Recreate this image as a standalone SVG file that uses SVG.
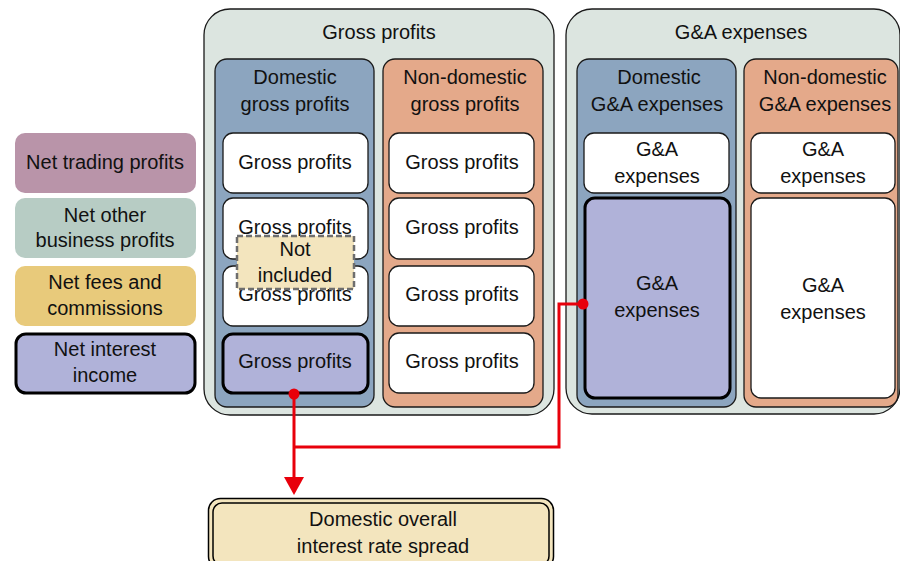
<svg xmlns="http://www.w3.org/2000/svg" width="900" height="561" viewBox="0 0 900 561">
<style>
text{font-family:"Liberation Sans",Arial,sans-serif;font-size:20px;fill:#111;text-anchor:middle}
.outer{fill:#DCE5E0;stroke:#1a1a1a;stroke-width:1.3}
.dom{fill:#8CA5BF;stroke:#1a1a1a;stroke-width:1.3}
.nondom{fill:#E4A98A;stroke:#1a1a1a;stroke-width:1.3}
.wb{fill:#fff;stroke:#1a1a1a;stroke-width:1.3}
.pb{fill:#B0B2D9;stroke:#000;stroke-width:3}
.conn{fill:none;stroke:#E8000B;stroke-width:3}
</style>
<defs>
<marker id="arr" viewBox="0 0 10 10" refX="10" refY="5" markerWidth="6.7" markerHeight="6" orient="auto" markerUnits="strokeWidth">
<path d="M0,0 L10,5 L0,10 z" fill="#E8000B"/>
</marker>
</defs>

<g id="legend-trading"><rect x="15" y="133" width="181" height="60" rx="10" fill="#B994A9"/><text x="105" y="169">Net trading profits</text></g>
<g id="legend-other"><rect x="15" y="198" width="181" height="60" rx="10" fill="#B7CCC4"/><text x="105" y="222">Net other</text><text x="105" y="247">business profits</text></g>
<g id="legend-fees"><rect x="15" y="266" width="181" height="60" rx="10" fill="#E8CA7B"/><text x="105" y="289">Net fees and</text><text x="105" y="315">commissions</text></g>
<g id="legend-interest"><rect x="16" y="334" width="179" height="59" rx="10" class="pb"/><text x="105" y="356">Net interest</text><text x="105" y="382">income</text></g>

<g id="gross-profits">
<rect x="204" y="9" width="350" height="406" rx="26" class="outer"/>
<text x="379" y="39">Gross profits</text>
</g>
<g id="domestic-gross">
<rect x="215" y="59" width="159" height="348" rx="12" class="dom"/>
<text x="295" y="84">Domestic</text><text x="295" y="111">gross profits</text>
</g>
<g id="dg1"><rect x="223" y="133" width="145" height="60" rx="10" class="wb"/><text x="295" y="169">Gross profits</text></g>
<g id="dg2"><rect x="223" y="198" width="145" height="61" rx="10" class="wb"/><text x="295" y="234">Gross profits</text></g>
<g id="dg3"><rect x="223" y="266" width="145" height="60" rx="10" class="wb"/><text x="295" y="301">Gross profits</text></g>
<g id="dg4"><rect x="223" y="334" width="145" height="59" rx="10" class="pb"/><text x="295" y="368">Gross profits</text></g>
<g id="not-included"><rect x="237" y="236" width="117" height="53" fill="#F3E5BE" stroke="#6e6e6e" stroke-width="2.5" stroke-dasharray="6,3"/><text x="295" y="256">Not</text><text x="295" y="282">included</text></g>

<g id="nondomestic-gross">
<rect x="383" y="59" width="160" height="348" rx="12" class="nondom"/>
<text x="465" y="84">Non-domestic</text><text x="465" y="111">gross profits</text>
</g>
<g id="ng1"><rect x="389" y="133" width="145" height="60" rx="10" class="wb"/><text x="462" y="169">Gross profits</text></g>
<g id="ng2"><rect x="389" y="198" width="145" height="61" rx="10" class="wb"/><text x="462" y="234">Gross profits</text></g>
<g id="ng3"><rect x="389" y="266" width="145" height="60" rx="10" class="wb"/><text x="462" y="301">Gross profits</text></g>
<g id="ng4"><rect x="389" y="333" width="145" height="60" rx="10" class="wb"/><text x="462" y="368">Gross profits</text></g>

<g id="ga-expenses">
<rect x="566" y="9" width="334" height="405" rx="26" class="outer"/>
<text x="741" y="39">G&amp;A expenses</text>
</g>
<g id="domestic-ga">
<rect x="577" y="59" width="159" height="348" rx="12" class="dom"/>
<text x="659" y="84">Domestic</text><text x="657" y="111">G&amp;A expenses</text>
</g>
<g id="dga1"><rect x="584" y="133" width="145" height="60" rx="10" class="wb"/><text x="657" y="156">G&amp;A</text><text x="657" y="183">expenses</text></g>
<g id="dga2"><rect x="585" y="198" width="145" height="200" rx="10" class="pb"/><text x="657" y="290">G&amp;A</text><text x="657" y="317">expenses</text></g>

<g id="nondomestic-ga">
<rect x="744" y="59" width="154" height="348" rx="12" class="nondom"/>
<text x="825" y="84">Non-domestic</text><text x="825" y="111">G&amp;A expenses</text>
</g>
<g id="nga1"><rect x="751" y="133" width="144" height="60" rx="10" class="wb"/><text x="823" y="156">G&amp;A</text><text x="823" y="183">expenses</text></g>
<g id="nga2"><rect x="751" y="198" width="144" height="200" rx="10" class="wb"/><text x="823" y="292">G&amp;A</text><text x="823" y="319">expenses</text></g>

<g id="spread">
<rect x="208.5" y="498.5" width="345" height="70" rx="12" fill="#F3E5BE" stroke="#000" stroke-width="1.5"/>
<rect x="213" y="503" width="336" height="62" rx="9" fill="none" stroke="#000" stroke-width="1.5"/>
<text x="383" y="526">Domestic overall</text><text x="383" y="553">interest rate spread</text>
</g>

<g id="connectors">
<path class="conn" d="M294,394 V477" />
<path d="M284,477 L304,477 L294,495 z" fill="#E8000B"/>
<path class="conn" d="M294,447 H559 V304 H583"/>
<circle cx="294" cy="394" r="5.5" fill="#E8000B"/>
<circle cx="583" cy="304" r="5.5" fill="#E8000B"/>
</g>
</svg>
